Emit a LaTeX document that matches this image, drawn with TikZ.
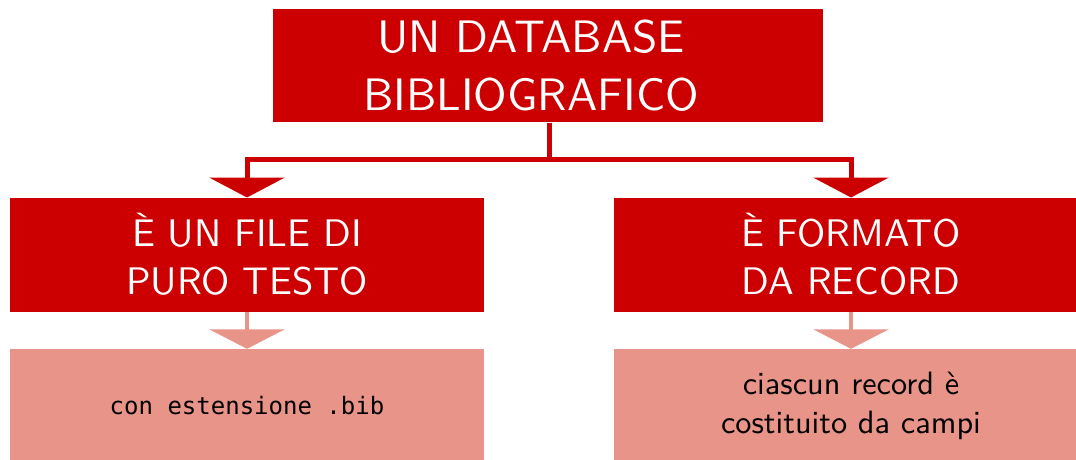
\documentclass[tikz,border=0pt]{standalone}
\usepackage{fontspec}
\setsansfont{lmsans10-regular.otf}
\newfontfamily\monofont{DejaVu Sans Mono}
\usetikzlibrary{arrows.meta}
\definecolor{darkred}{RGB}{204,0,0}
\definecolor{lightred}{RGB}{233,148,136}
\tikzset{
  x=1pt,y=-1pt,
  topbox/.style={fill=darkred,inner sep=0pt,minimum width=550pt,minimum height=113.5pt},
  toptext/.style={text=white,inner sep=0pt,align=center,font=\sffamily\fontsize{45.5}{58}\selectfont},
  midbox/.style={fill=darkred,text=white,inner sep=0pt,minimum width=474pt,minimum height=114pt,align=center,font=\sffamily\fontsize{38.4}{48}\selectfont},
  lowbox/.style={fill=lightred,text=black,inner sep=0pt,minimum width=474pt,minimum height=114pt,align=center,font=\sffamily\fontsize{32.3}{38.5}\selectfont},
  darkconn/.style={draw=darkred,line width=5pt,line join=miter},
  lightconn/.style={draw=lightred,line width=4.7pt,-{Triangle[width=75pt,length=19.5pt]}},
  darktip/.style={-{Triangle[width=75pt,length=20pt]}}
}
\begin{document}
\begin{tikzpicture}
\useasboundingbox (0,0) rectangle (1076,460);
\clip (0,0) rectangle (1076,460);
\node[topbox] (top) at (548,65.7) {};
\node[toptext] (toplabel) at ([xshift=-17pt]top.center) {UN DATABASE\\BIBLIOGRAFICO};
\node[midbox] (l1) at (247,254.7) {È UN FILE DI\\PURO TESTO};
\node[midbox] (r1) at (851,254.7) {È FORMATO\\DA RECORD};
\node[lowbox] (l2) at (247,406) {{\monofont\fontsize{24}{39}\selectfont con estensione .bib}};
\node[lowbox] (r2) at (851,406) {ciascun record è\\costituito da campi};
\coordinate (j) at (549,159);
\draw[darkconn] (top.south -| j) -- (j);
\draw[darkconn,darktip] (j) -| (l1.north);
\draw[darkconn,darktip] (j) -| (r1.north);
\draw[lightconn] (l1.south) -- (l2.north);
\draw[lightconn] (r1.south) -- (r2.north);
\end{tikzpicture}
\end{document}
